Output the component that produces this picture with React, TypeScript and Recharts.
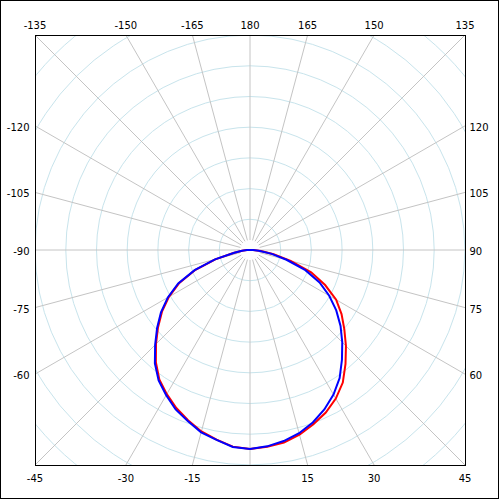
import { RadarChart, Radar, PolarGrid, PolarAngleAxis, PolarRadiusAxis } from "recharts";

// angle in degrees, 0 = down, 90 = right, 180 = up; listed clockwise from the top
const angles = [
  180, 175, 170, 165, 160, 155, 150, 145, 140, 135, 130, 125, 120, 115, 110,
  105, 100, 95, 90, 85, 80, 75, 70, 65, 60, 55, 50, 45, 40, 35, 30, 25, 20, 15,
  10, 5, 0, -5, -10, -15, -20, -25, -30, -35, -40, -45, -50, -55, -60, -65, -70,
  -75, -80, -85, -90, -95, -100, -105, -110, -115, -120, -125, -130, -135, -140,
  -145, -150, -155, -160, -165, -170, -175,
];

const blueSeries = [
  0, 0, 0, 0, 0, 0, 0, 0, 0, 0, 0, 0, 0, 0, 0, 0, 0, 0,
  0.01, 0.029, 0.072, 0.123, 0.192, 0.25, 0.298, 0.343, 0.385, 0.425, 0.466,
  0.509, 0.544, 0.573, 0.598, 0.618, 0.632, 0.642, 0.648, 0.644, 0.628, 0.615,
  0.593, 0.573, 0.546, 0.519, 0.482, 0.437, 0.395, 0.354, 0.309, 0.258, 0.192,
  0.118, 0.052, 0.026, 0.01,
  0, 0, 0, 0, 0, 0, 0, 0, 0, 0, 0, 0, 0, 0, 0, 0, 0,
];

const redSeries = [
  0, 0, 0, 0, 0, 0, 0, 0, 0, 0, 0, 0, 0, 0, 0, 0, 0, 0,
  0.01, 0.036, 0.078, 0.137, 0.212, 0.27, 0.324, 0.364, 0.401, 0.442, 0.484,
  0.527, 0.559, 0.584, 0.604, 0.623, 0.637, 0.643, 0.648, 0.643, 0.627, 0.612,
  0.59, 0.568, 0.542, 0.515, 0.477, 0.433, 0.391, 0.35, 0.305, 0.254, 0.189,
  0.117, 0.055, 0.026, 0.01,
  0, 0, 0, 0, 0, 0, 0, 0, 0, 0, 0, 0, 0, 0, 0, 0, 0,
];

const rings = [0.1, 0.2, 0.3, 0.4, 0.5, 0.6, 0.7, 0.8, 0.9, 1.0];
const spokeAngles = [
  -165, -150, -135, -120, -105, -90, -75, -60, -45, -30, -15, 0, 15, 30, 45,
  60, 75, 90, 105, 120, 135, 150, 165, 180,
];
const labelAngles = [
  -165, -150, -135, -120, -105, -90, -75, -60, -45, -30, -15, 15, 30, 45, 60,
  75, 90, 105, 120, 135, 150, 165, 180,
];

const data = angles.map((a, i) => ({ angle: a, red: redSeries[i], blue: blueSeries[i] }));

const SIZE = 500;
const CX = 250;
const CY = 250;
const BOX_MIN = 35;
const BOX_MAX = 465;
const HALF = 215;
const OUTER = 307;
const R_MAX = 1;
// recharts angles: 0 = right, counter-clockwise positive. 180 (data) sits at the top
const START = 90;
const END = -270;

function EdgeTick(props: any) {
  const { payload } = props;
  if (!labelAngles.includes(payload.value)) return <g />;
  const rad = (payload.coordinate * Math.PI) / 180;
  const dx = Math.cos(rad);
  const dy = -Math.sin(rad);
  const t = HALF / Math.max(Math.abs(dx), Math.abs(dy));
  const px = CX + dx * t;
  const py = CY + dy * t;
  let x = px;
  let y = py;
  let anchor: "start" | "middle" | "end" = "middle";
  if (Math.abs(dy) >= Math.abs(dx) - 1e-6) {
    y = dy < 0 ? BOX_MIN - 6.5 : BOX_MAX + 16.5;
  } else {
    x = dx < 0 ? BOX_MIN - 5.5 : BOX_MAX + 4.5;
    y = py + 5;
    anchor = dx < 0 ? "end" : "start";
  }
  return (
    <text x={x} y={y} textAnchor={anchor} fontSize={10} fontFamily="DejaVu Sans" fill="#000">
      {payload.value}
    </text>
  );
}

export default function App() {
  const layer: React.CSSProperties = { position: "absolute", left: 0, top: 0 };
  const base = {
    width: SIZE,
    height: SIZE,
    cx: CX,
    cy: CY,
    outerRadius: OUTER,
    startAngle: START,
    endAngle: END,
    margin: { top: 0, right: 0, bottom: 0, left: 0 },
  };
  return (
    <div style={{ position: "absolute", left: 0, top: 0, width: SIZE, height: SIZE, background: "#fff" }}>
      {/* grid, clipped to the plot box; spokes leave a small gap at the centre */}
      <div style={{ ...layer, clipPath: `inset(${BOX_MIN}px ${SIZE - BOX_MAX}px ${SIZE - BOX_MAX}px ${BOX_MIN}px)` }}>
        <RadarChart {...base} innerRadius={10}>
          <PolarGrid
            gridType="circle"
            radialLines={false}
            polarAngles={[]}
            polarRadius={rings.map((v) => (v / R_MAX) * OUTER)}
            stroke="#c8e4ec"
            strokeWidth={1}
          />
          <PolarGrid
            gridType="circle"
            polarRadius={[]}
            polarAngles={spokeAngles.map((a) => a - 90)}
            stroke="#c4c4c4"
            strokeWidth={1}
          />
        </RadarChart>
      </div>
      {/* curves and edge labels */}
      <div style={layer}>
        <RadarChart {...base} data={data}>
          <PolarAngleAxis dataKey="angle" tick={EdgeTick} axisLine={false} tickLine={false} />
          <PolarRadiusAxis domain={[0, R_MAX]} tickCount={11} tick={false} axisLine={false} />
          <Radar dataKey="red" stroke="#ff0000" strokeWidth={2} fill="none" dot={false} isAnimationActive={false} />
          <Radar dataKey="blue" stroke="#0000ff" strokeWidth={2} fill="none" dot={false} isAnimationActive={false} />
        </RadarChart>
      </div>
      <div
        style={{
          ...layer,
          left: BOX_MIN,
          top: BOX_MIN,
          width: BOX_MAX - BOX_MIN + 1,
          height: BOX_MAX - BOX_MIN + 1,
          boxSizing: "border-box",
          border: "1px solid #000",
        }}
      />
      <div
        style={{
          ...layer,
          width: SIZE - 1,
          height: SIZE - 1,
          boxSizing: "border-box",
          border: "1px solid #000",
        }}
      />
    </div>
  );
}
